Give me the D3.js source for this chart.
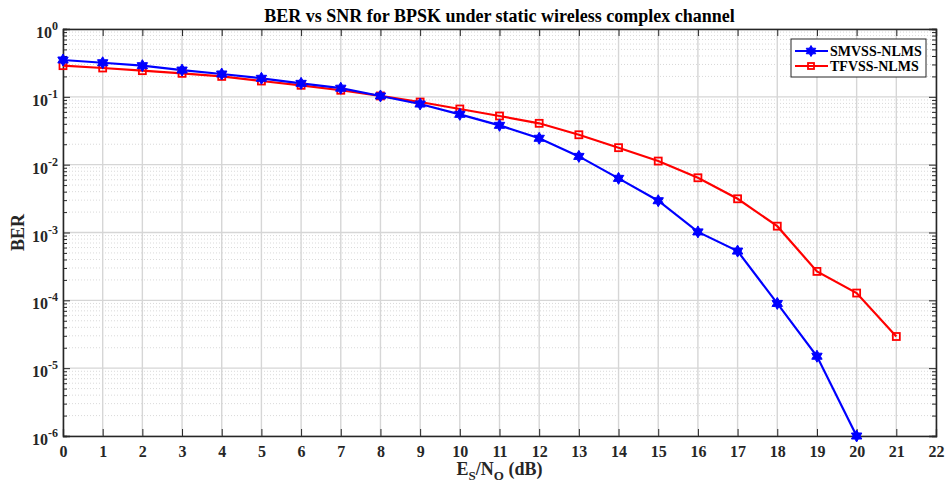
<!DOCTYPE html>
<html>
<head>
<meta charset="utf-8">
<script src="https://cdn.jsdelivr.net/npm/d3@7"></script>
<style>
  body { margin: 0; background: #fff; }
  svg text { font-family: "Liberation Serif", "Times New Roman", serif; font-weight: bold; }
</style>
</head>
<body>
<svg width="948" height="487"></svg>
<script>
// The data:
const snr = [0, 1, 2, 3, 4, 5, 6, 7, 8, 9, 10, 11, 12, 13, 14, 15, 16, 17, 18, 19, 20, 21]
const smvss = [0.349, 0.318, 0.288, 0.248, 0.217, 0.1875, 0.158, 0.134, 0.103, 0.0784, 0.0552, 0.038,
  0.0245, 0.01325, 0.00628, 0.00294, 0.00102, 0.000532, 0.00009, 0.000015, 0.000001]
const tfvss = [0.288, 0.266, 0.243, 0.222, 0.2, 0.171, 0.148, 0.125, 0.103, 0.0839, 0.0662, 0.0522,
  0.0407, 0.0276, 0.0178, 0.0113, 0.00641, 0.00314, 0.00124, 0.000267, 0.000128, 0.0000293]
const xTicks = d3.range(0, 23)
const yExps = [0, -1, -2, -3, -4, -5, -6]

const svg = d3.select('svg')
const pL = 63, pR = 936, pT = 29, pB = 436

let xScale = d3.scaleLinear().domain([0, 22]).range([pL, pR])
let yScale = d3.scaleLog().domain([1e-6, 1]).range([pB, pT])

// minor values on y
let minor = []
yExps.slice(1).forEach(e => {
  for (let k = 2; k <= 9; k++) minor.push(k * Math.pow(10, e))
})

// grid
const grid = svg.append('g')
grid.selectAll('.ymin').data(minor).enter().append('line')
  .attr('x1', pL).attr('x2', pR)
  .attr('y1', d => yScale(d)).attr('y2', d => yScale(d))
  .attr('stroke', '#c8c8c8').attr('stroke-width', 0.7).attr('stroke-dasharray', '1,2')
grid.selectAll('.ymaj').data(yExps).enter().append('line')
  .attr('x1', pL).attr('x2', pR)
  .attr('y1', d => yScale(Math.pow(10, d))).attr('y2', d => yScale(Math.pow(10, d)))
  .attr('stroke', '#d6d6d6').attr('stroke-width', 1.4)
grid.selectAll('.xmaj').data(xTicks).enter().append('line')
  .attr('y1', pT).attr('y2', pB)
  .attr('x1', d => xScale(d)).attr('x2', d => xScale(d))
  .attr('stroke', '#d6d6d6').attr('stroke-width', 1.4)

// axes (ticks inward, box)
let xAxis = d3.axisBottom(xScale).tickValues(xTicks).tickSize(-7).tickPadding(10).tickFormat(d3.format('d'))
svg.append('g').attr('transform', `translate(0,${pB})`).call(xAxis)
  .call(g => g.selectAll('text').attr('font-size', 16).attr('fill', '#262626'))
let xTop = d3.axisTop(xScale).tickValues(xTicks).tickSize(-7).tickFormat('')
svg.append('g').attr('transform', `translate(0,${pT})`).call(xTop)

let yAxis = d3.axisLeft(yScale).tickValues(yExps.map(e => Math.pow(10, e))).tickSize(-7).tickFormat('')
svg.append('g').attr('transform', `translate(${pL},0)`).call(yAxis)
let yRight = d3.axisRight(yScale).tickValues(yExps.map(e => Math.pow(10, e))).tickSize(-7).tickFormat('')
svg.append('g').attr('transform', `translate(${pR},0)`).call(yRight)
let yMinL = d3.axisLeft(yScale).tickValues(minor).tickSize(-4).tickFormat('')
svg.append('g').attr('transform', `translate(${pL},0)`).call(yMinL)
let yMinR = d3.axisRight(yScale).tickValues(minor).tickSize(-4).tickFormat('')
svg.append('g').attr('transform', `translate(${pR},0)`).call(yMinR)

svg.selectAll('.domain').attr('stroke', '#262626').attr('stroke-width', 1.3)
svg.selectAll('.tick line').attr('stroke', '#262626').attr('stroke-width', 1)

// y tick labels 10^e
const yl = svg.append('g')
yExps.forEach(e => {
  const t = yl.append('text')
    .attr('x', 58).attr('y', yScale(Math.pow(10, e)) + 9)
    .attr('text-anchor', 'end').attr('font-size', 16).attr('fill', '#262626')
  t.append('tspan').text('10')
  t.append('tspan').text(e).attr('font-size', 12).attr('dy', -8)
})

// lines
let line = d3.line().x((d, i) => xScale(snr[i])).y(d => yScale(d))
svg.append('path').datum(tfvss).attr('d', line)
  .attr('fill', 'none').attr('stroke', '#ff0000').attr('stroke-width', 2.2)
svg.append('path').datum(smvss).attr('d', line)
  .attr('fill', 'none').attr('stroke', '#0000ff').attr('stroke-width', 2.2)

// markers
function hexagram(r) {
  let pts = []
  for (let k = 0; k < 12; k++) {
    const a = -Math.PI / 2 + k * Math.PI / 6
    const rr = k % 2 === 0 ? r : r * 0.58
    pts.push([rr * Math.cos(a), rr * Math.sin(a)])
  }
  return 'M' + pts.map(p => p.join(',')).join('L') + 'Z'
}
svg.selectAll('.sq').data(tfvss).enter().append('rect')
  .attr('x', (d, i) => xScale(snr[i]) - 3.5).attr('y', d => yScale(d) - 3.5)
  .attr('width', 7).attr('height', 7)
  .attr('fill', 'none').attr('stroke', '#ff0000').attr('stroke-width', 1.8)
svg.selectAll('.st').data(smvss).enter().append('path')
  .attr('transform', (d, i) => `translate(${xScale(snr[i])},${yScale(d)})`)
  .attr('d', hexagram(6))
  .attr('fill', '#0000ff').attr('stroke', '#0000ff').attr('stroke-width', 1)

// title and labels
svg.append('text').attr('x', (pL + pR) / 2).attr('y', 22)
  .attr('text-anchor', 'middle').attr('font-size', 18).attr('fill', '#000')
  .text('BER vs SNR for BPSK under static wireless complex channel')

const xl = svg.append('text').attr('x', (pL + pR) / 2).attr('y', 475)
  .attr('text-anchor', 'middle').attr('font-size', 18).attr('fill', '#262626')
xl.append('tspan').text('E')
xl.append('tspan').text('S').attr('font-size', 13).attr('dy', 5)
xl.append('tspan').text('/N').attr('dy', -5)
xl.append('tspan').text('O').attr('font-size', 13).attr('dy', 5)
xl.append('tspan').text(' (dB)').attr('dy', -5)

svg.append('text').attr('transform', `translate(24,${(pT + pB) / 2}) rotate(-90)`)
  .attr('text-anchor', 'middle').attr('font-size', 18).attr('fill', '#262626').text('BER')

// legend
const lg = svg.append('g')
lg.append('rect').attr('x', 791).attr('y', 39).attr('width', 135).attr('height', 38)
  .attr('fill', '#fff').attr('stroke', '#262626').attr('stroke-width', 1)
const items = [
  { name: 'SMVSS-NLMS', color: '#0000ff', y: 51 },
  { name: 'TFVSS-NLMS', color: '#ff0000', y: 66 }
]
items.forEach(it => {
  lg.append('line').attr('x1', 795).attr('x2', 828).attr('y1', it.y).attr('y2', it.y)
    .attr('stroke', it.color).attr('stroke-width', 2.2)
  lg.append('text').attr('x', 830).attr('y', it.y + 5).attr('font-size', 14).attr('fill', '#000').text(it.name)
})
lg.append('path').attr('transform', 'translate(811,51)').attr('d', hexagram(5.5))
  .attr('fill', '#0000ff').attr('stroke', '#0000ff')
lg.append('rect').attr('x', 808).attr('y', 63).attr('width', 6).attr('height', 6)
  .attr('fill', 'none').attr('stroke', '#ff0000').attr('stroke-width', 1.8)
</script>
</body>
</html>
